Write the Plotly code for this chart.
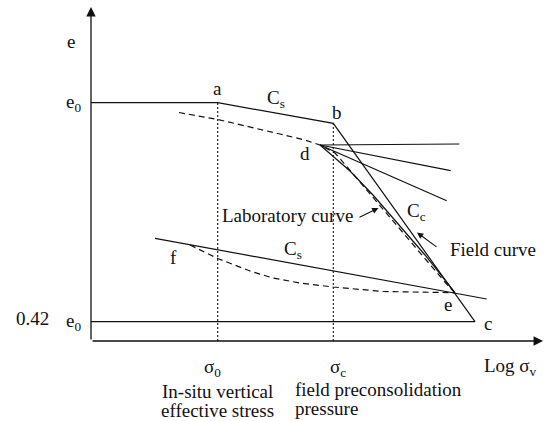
import plotly.graph_objects as go

# ---- schematic data (x = log sigma_v units, y = void ratio units) ----
# main field path: e0 level -> a -> b -> c -> back along lower e0 level
main_x = [0.0, 1.267, 2.423, 3.84, 0.0]
main_y = [2.383, 2.383, 2.177, 0.193, 0.193]

# vertical reference lines
sigma0_x = [1.267, 1.267]
sigma0_y = [0.0, 2.383]
sigmac_x = [2.423, 2.423]
sigmac_y = [0.0, 2.177]

# laboratory curve (dashed) through d down to e
lab_x = [0.88, 1.267, 1.89, 2.14, 2.29, 2.44, 2.57, 2.74, 2.99, 3.21, 3.44, 3.59, 3.64]
lab_y = [2.285, 2.215, 2.07, 2.01, 1.96, 1.88, 1.73, 1.53, 1.24, 0.97, 0.71, 0.53, 0.483]

# solid curve from d to e
de_x = [2.29, 2.59, 2.82, 3.34, 3.64]
de_y = [1.96, 1.70, 1.46, 0.86, 0.483]

# fan of lines from d
d_pt = (2.29, 1.96)
fan_end_x = [3.683, 3.597, 3.557]
fan_end_y = [1.97, 1.703, 1.403]

# lower recompression line (Cs) through e
cs_low_x = [0.64, 3.957]
cs_low_y = [1.027, 0.42]

# lower dashed curve from f to e
f_x = [0.99, 1.267, 1.59, 1.82, 2.09, 2.42, 2.92, 3.64]
f_y = [0.96, 0.825, 0.70, 0.63, 0.58, 0.54, 0.495, 0.483]

# axes (origin -> arrow tip)
yaxis_x = [0.0, 0.0]
yaxis_y = [0.0, 3.34]
xaxis_x = [0.0, 4.52]
xaxis_y = [0.0, 0.0]

# pointer arrows (tail -> head)
lab_arrow_x = [2.67, 2.875]
lab_arrow_y = [1.23, 1.33]
field_arrow_x = [3.47, 3.26]
field_arrow_y = [0.93, 1.085]

FONT = "Liberation Serif"
BLACK = "#111111"
LW = 1.2

fig = go.Figure()

def line(x, y, dash="solid", width=LW):
    fig.add_trace(go.Scatter(x=x, y=y, mode="lines",
                             line=dict(color=BLACK, width=width, dash=dash),
                             hoverinfo="skip", showlegend=False))

line(main_x, main_y)
line(sigma0_x, sigma0_y, dash="2px,2px", width=1.1)
line(sigmac_x, sigmac_y, dash="2px,2px", width=1.1)
line(lab_x, lab_y, dash="6px,4px")
line(de_x, de_y)
for ex, ey in zip(fan_end_x, fan_end_y):
    line([d_pt[0], ex], [d_pt[1], ey])
line(cs_low_x, cs_low_y)
line(f_x, f_y, dash="6px,4px")

annotations = []

def arrow(xs, ys, size=1.0, width=1.2):
    annotations.append(dict(text="", x=xs[1], y=ys[1], ax=xs[0], ay=ys[0],
                            xref="x", yref="y", axref="x", ayref="y",
                            showarrow=True, arrowhead=2, arrowsize=size,
                            arrowwidth=width, arrowcolor=BLACK, standoff=0,
                            startstandoff=0))

def label(text, x, y, xanchor="center", size=19):
    annotations.append(dict(text=text, x=x, y=y, xref="x", yref="y",
                            xanchor=xanchor, yanchor="middle", showarrow=False,
                            font=dict(family=FONT, size=size, color=BLACK)))

arrow(yaxis_x, yaxis_y, size=1.45, width=1.3)
arrow(xaxis_x, xaxis_y, size=1.45, width=1.3)
arrow(lab_arrow_x, lab_arrow_y, size=1.15, width=1.1)
arrow(field_arrow_x, field_arrow_y, size=1.15, width=1.1)

label("e", -0.205, 3.00)
label("e<sub>0</sub>", -0.175, 2.385)
label("a", 1.267, 2.53)
label("C<sub>s</sub>", 1.853, 2.42)
label("b", 2.457, 2.288)
label("d", 2.137, 1.88)
label("Laboratory curve", 1.965, 1.257)
label("C<sub>c</sub>", 3.257, 1.287)
label("Field curve", 4.023, 0.918)
label("C<sub>s</sub>", 2.015, 0.915)
label("f", 0.827, 0.835)
label("e", 3.57, 0.363)
label("c", 3.965, 0.18)
label("0.42", -0.583, 0.227)
label("e<sub>0</sub>", -0.177, 0.192)
label("σ<sub>0</sub>", 1.217, -0.27)
label("In-situ vertical", 1.265, -0.507)
label("effective stress", 1.263, -0.69)
label("σ<sub>c</sub>", 2.465, -0.274)
label("field preconsolidation", 2.023, -0.487, xanchor="left")
label("pressure", 2.023, -0.676, xanchor="left")
label("Log σ<sub>v</sub>", 4.19, -0.255)

fig.update_layout(
    width=547, height=421,
    margin=dict(l=0, r=0, t=0, b=0),
    paper_bgcolor="white", plot_bgcolor="white",
    xaxis=dict(range=[-0.91, 4.56], visible=False, fixedrange=True),
    yaxis=dict(range=[-0.80, 3.41], visible=False, fixedrange=True),
    annotations=annotations,
    showlegend=False,
)

fig.write_html("out.html")
